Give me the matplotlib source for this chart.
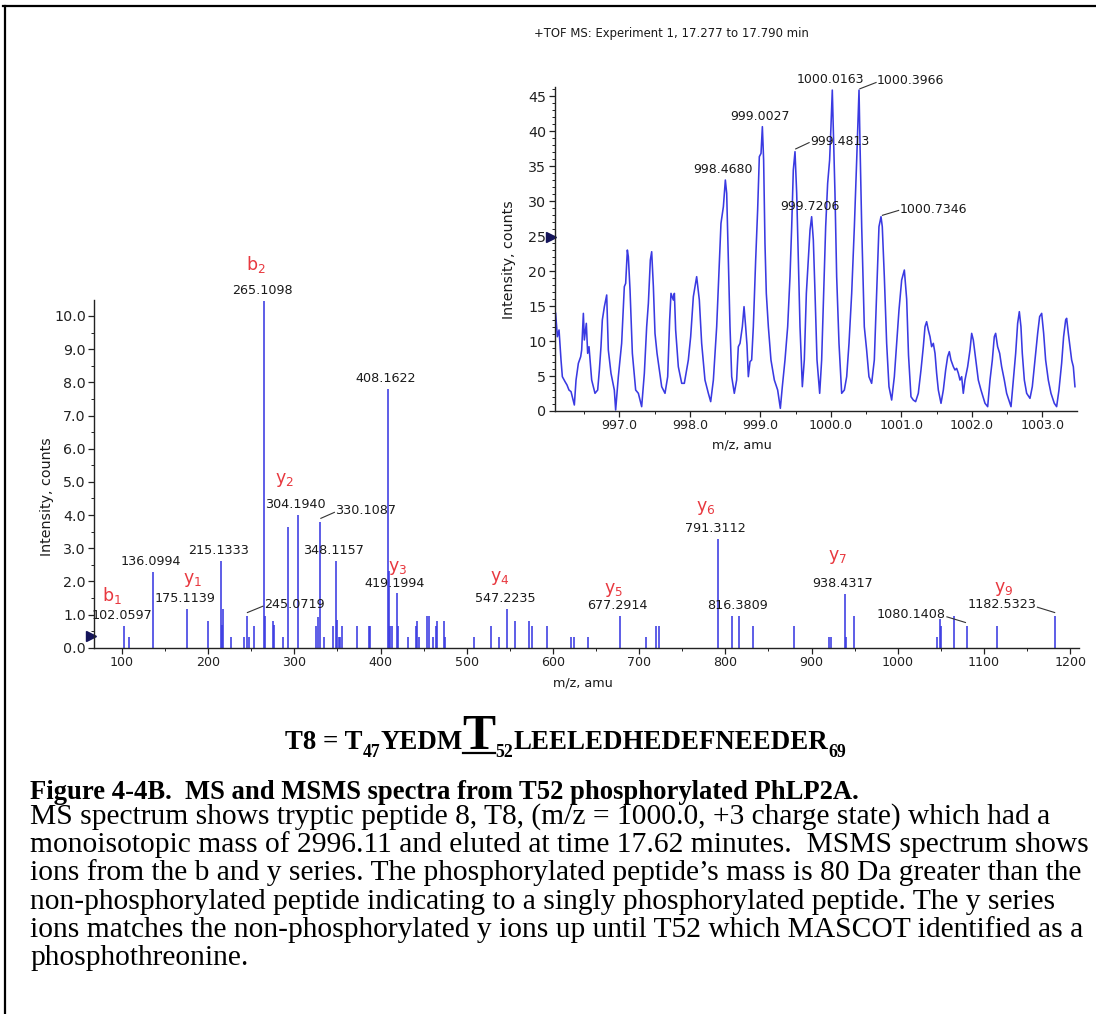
import matplotlib
matplotlib.use("Agg")
import matplotlib.pyplot as plt
from matplotlib.ticker import MultipleLocator, FormatStrFormatter
from matplotlib.lines import Line2D
import matplotlib.transforms as mtransforms

# ---------------- DATA ----------------
# MSMS centroid peaks (m/z, intensity counts)
msms_mz = [102.06, 108.2, 136.10, 175.11, 200.2, 215.13, 216.1, 217.3, 227.0, 241.4,
           245.07, 247.0, 253.4, 265.11, 266.1, 275.1, 276.7, 286.4, 292.6, 304.19,
           325.6, 327.2, 330.11, 334.9, 344.5, 348.12, 349.2, 351.5, 353.2, 354.8,
           372.6, 386.6, 388.2, 408.16, 409.3, 410.5, 413.4, 419.20, 420.6, 432.0,
           440.6, 442.5, 444.1, 454.2, 455.7, 460.8, 463.9, 465.4, 473.2, 474.4,
           508.5, 527.6, 536.9, 547.22, 555.7, 571.9, 575.3, 592.8, 621.1, 625.0,
           640.7, 677.29, 707.4, 720.0, 723.5, 791.31, 807.2, 816.38, 832.0, 879.9,
           920.4, 922.6, 938.43, 940.2, 948.8, 1045.5, 1049.4, 1050.3, 1065.5, 1080.14,
           1115.2, 1182.53]
msms_int = [0.66, 0.33, 2.28, 1.17, 0.80, 2.62, 0.68, 1.17, 0.33, 0.33,
            0.96, 0.33, 0.66, 10.46, 0.96, 0.80, 0.68, 0.33, 3.63, 4.00,
            0.66, 0.93, 3.80, 0.33, 0.66, 2.62, 0.83, 0.33, 0.33, 0.66,
            0.66, 0.66, 0.66, 7.80, 2.30, 0.66, 0.66, 1.64, 0.66, 0.33,
            0.66, 0.80, 0.33, 0.96, 0.96, 0.33, 0.66, 0.80, 0.80, 0.33,
            0.33, 0.66, 0.33, 1.16, 0.81, 0.81, 0.65, 0.65, 0.31, 0.31,
            0.33, 0.97, 0.33, 0.65, 0.65, 3.28, 0.97, 0.97, 0.65, 0.65,
            0.31, 0.31, 1.62, 0.33, 0.97, 0.33, 0.86, 0.65, 0.97, 0.65,
            0.65, 0.97]

msms_peak_labels = ["102.0597", "136.0994", "175.1139", "215.1333", "245.0719",
                    "265.1098", "304.1940", "330.1087", "348.1157", "408.1622",
                    "419.1994", "547.2235", "677.2914", "791.3112", "816.3809",
                    "938.4317", "1080.1408", "1182.5323"]
ion_names = ["b1", "y1", "b2", "y2", "y3", "y4", "y5", "y6", "y7", "y9"]

# MS profile spectrum (m/z, intensity counts)
ms_mz = [996.095, 996.119, 996.143, 996.171, 996.190, 996.228, 996.256, 996.284, 996.313, 996.360,
         996.384, 996.417, 996.450, 996.464, 996.488, 996.502, 996.530, 996.549, 996.568, 996.606,
         996.653, 996.691, 996.715, 996.738, 996.757, 996.786, 996.819, 996.842, 996.880, 996.927,
         996.946, 996.984, 997.031, 997.069, 997.088, 997.112, 997.126, 997.150, 997.183, 997.230,
         997.268, 997.315, 997.353, 997.386, 997.410, 997.438, 997.457, 997.481, 997.504, 997.533,
         997.599, 997.646, 997.684, 997.712, 997.731, 997.764, 997.779, 997.797, 997.835, 997.883,
         997.920, 997.977, 998.010, 998.048, 998.095, 998.133, 998.166, 998.213, 998.261, 998.294,
         998.332, 998.379, 998.412, 998.440, 998.474, 998.502, 998.521, 998.544, 998.568, 998.592,
         998.629, 998.662, 998.686, 998.710, 998.743, 998.767, 998.790, 998.809, 998.828, 998.852,
         998.875, 998.899, 998.932, 998.960, 998.984, 999.008, 999.027, 999.045, 999.064, 999.083,
         999.112, 999.149, 999.197, 999.244, 999.282, 999.310, 999.348, 999.386, 999.419, 999.443,
         999.466, 999.490, 999.514, 999.537, 999.561, 999.594, 999.622, 999.651, 999.679, 999.703,
         999.726, 999.750, 999.774, 999.802, 999.840, 999.868, 999.896, 999.925, 999.953, 999.981,
         1000.000, 1000.019, 1000.038, 1000.057, 1000.081, 1000.114, 1000.152, 1000.190, 1000.223, 1000.256,
         1000.294, 1000.332, 1000.365, 1000.398, 1000.412, 1000.436, 1000.473, 1000.506, 1000.539, 1000.577,
         1000.615, 1000.648, 1000.681, 1000.710, 1000.728, 1000.757, 1000.790, 1000.823, 1000.861, 1000.899,
         1000.932, 1000.965, 1001.003, 1001.041, 1001.074, 1001.100, 1001.135, 1001.168, 1001.201, 1001.239,
         1001.277, 1001.310, 1001.334, 1001.357, 1001.381, 1001.405, 1001.428, 1001.452, 1001.476, 1001.499,
         1001.523, 1001.561, 1001.594, 1001.627, 1001.655, 1001.679, 1001.702, 1001.736, 1001.759, 1001.783,
         1001.807, 1001.830, 1001.854, 1001.877, 1001.901, 1001.939, 1001.972, 1001.996, 1002.019, 1002.043,
         1002.067, 1002.090, 1002.128, 1002.185, 1002.223, 1002.256, 1002.289, 1002.317, 1002.336, 1002.364,
         1002.393, 1002.421, 1002.459, 1002.492, 1002.554, 1002.587, 1002.620, 1002.648, 1002.672, 1002.695,
         1002.714, 1002.743, 1002.776, 1002.823, 1002.856, 1002.894, 1002.932, 1002.960, 1002.989, 1003.017,
         1003.045, 1003.083, 1003.121, 1003.168, 1003.201, 1003.234, 1003.272, 1003.300, 1003.329, 1003.343,
         1003.367, 1003.390, 1003.414, 1003.438, 1003.461]
ms_int = [13.97, 10.63, 11.59, 7.30, 4.91, 4.20, 3.72, 3.00, 2.77, 0.86,
          4.43, 6.82, 7.77, 8.73, 13.97, 10.16, 12.54, 8.25, 9.20, 4.43,
          2.53, 3.00, 5.87, 9.20, 13.02, 14.93, 16.60, 8.73, 5.39, 3.00,
          0.14, 4.91, 9.68, 17.79, 18.26, 23.03, 22.08, 17.31, 8.25, 3.00,
          2.53, 0.62, 5.39, 12.06, 15.40, 21.60, 22.79, 17.79, 11.11, 8.25,
          3.48, 2.53, 4.91, 13.02, 16.83, 15.88, 16.83, 11.59, 6.34, 3.96,
          3.96, 7.30, 10.63, 16.36, 19.22, 15.88, 9.68, 4.43, 2.53, 1.34,
          4.43, 12.06, 20.17, 26.85, 29.23, 33.05, 31.14, 21.60, 12.06, 4.91,
          2.53, 4.43, 9.20, 9.68, 12.06, 14.93, 12.06, 9.44, 4.91, 7.06,
          7.30, 12.06, 21.60, 28.76, 36.39, 36.86, 40.68, 35.91, 23.99, 16.83,
          12.06, 7.30, 4.43, 3.00, 0.38, 3.48, 7.30, 12.06, 19.22, 26.37,
          34.48, 37.10, 31.14, 21.60, 12.06, 3.48, 7.30, 16.83, 21.60, 25.89,
          27.80, 24.46, 16.83, 7.30, 2.53, 7.30, 16.83, 26.37, 32.57, 35.91,
          40.68, 45.92, 38.29, 31.14, 19.22, 9.68, 2.53, 3.00, 4.91, 9.68,
          16.83, 26.37, 35.91, 45.92, 38.29, 26.37, 12.06, 8.73, 4.91, 3.96,
          7.30, 16.83, 26.37, 27.80, 26.37, 19.22, 9.68, 3.48, 1.57, 4.91,
          9.68, 14.45, 18.74, 20.17, 16.00, 8.00, 2.05, 1.57, 1.34, 2.53,
          5.87, 9.20, 12.06, 12.78, 11.59, 10.63, 9.20, 9.68, 8.25, 5.39,
          3.00, 1.10, 3.00, 5.87, 7.77, 8.49, 7.30, 6.34, 5.87, 6.10,
          5.39, 4.43, 4.91, 2.53, 4.43, 6.34, 8.73, 11.11, 10.16, 8.25,
          6.34, 4.43, 3.00, 1.10, 0.62, 4.43, 7.30, 10.63, 11.11, 9.20,
          8.25, 6.34, 4.43, 2.53, 0.62, 4.43, 8.25, 12.54, 14.21, 12.06,
          8.25, 4.43, 2.53, 1.81, 3.48, 7.30, 11.11, 13.50, 13.97, 11.11,
          7.30, 4.43, 2.53, 1.10, 0.62, 3.00, 6.82, 10.63, 13.02, 13.26,
          11.11, 9.20, 7.30, 6.34, 3.48]
ms_peak_labels = ["998.4680", "999.0027", "999.4813", "999.7206",
                  "1000.0163", "1000.3966", "1000.7346"]

inset_title = "+TOF MS: Experiment 1, 17.277 to 17.790 min"
x_label = "m/z, amu"
y_label = "Intensity, counts"
caption_heading = "Figure 4-4B.  MS and MSMS spectra from T52 phosphorylated PhLP2A."
caption_lines = [
    "MS spectrum shows tryptic peptide 8, T8, (m/z = 1000.0, +3 charge state) which had a",
    "monoisotopic mass of 2996.11 and eluted at time 17.62 minutes.  MSMS spectrum shows",
    "ions from the b and y series. The phosphorylated peptide\u2019s mass is 80 Da greater than the",
    "non-phosphorylated peptide indicating to a singly phosphorylated peptide. The y series",
    "ions matches the non-phosphorylated y ions up until T52 which MASCOT identified as a",
    "phosphothreonine.",
]
peptide_pieces = [("T8 = T", "n"), ("47", "s"), ("YEDM", "n"), ("T", "big"),
                  ("52", "s"), ("LEELEDHEDEFNEEDER", "n"), ("69", "s")]

# ---------------- LAYOUT / STYLE ----------------
W, H = 1096, 1014
BLUE = "#3a3ae2"
RED = "#e8383f"
TXT = "#1a1a1a"
SERIF = "Liberation Serif"

fig = plt.figure(figsize=(W / 100, H / 100), dpi=100)
fig.patch.set_facecolor("white")


def fx(px):
    return px / W


def fy(py):
    return 1 - py / H


# border (top & left)
fig.add_artist(Line2D([fx(3), 1.0], [fy(6), fy(6)], color="black", lw=1.6, transform=fig.transFigure))
fig.add_artist(Line2D([fx(5), fx(5)], [fy(6), 0.0], color="black", lw=1.6, transform=fig.transFigure))


def style_axes(a, xs, ys):
    for s in ("top", "right"):
        a.spines[s].set_visible(False)
    for s in ("left", "bottom"):
        a.spines[s].set_linewidth(1.0)
        a.spines[s].set_color("#222222")
    a.tick_params(which="major", direction="out", length=4, width=0.9, colors="#222222", pad=2)
    a.tick_params(which="minor", direction="out", length=2, width=0.7, colors="#222222")
    a.tick_params(axis="x", labelsize=xs)
    a.tick_params(axis="y", labelsize=ys)


# ---- main MSMS axes ----
ax = fig.add_axes([fx(94.3), fy(647.7), (1078.8 - 94.3) / W, (647.7 - 300.4) / H])
ax.vlines(msms_mz, 0, msms_int, color=BLUE, lw=1.15)
ax.set_xlim(68, 1210)
ax.set_ylim(0, 10.47)
ax.xaxis.set_major_locator(MultipleLocator(100))
ax.xaxis.set_minor_locator(MultipleLocator(50))
ax.yaxis.set_major_locator(MultipleLocator(1.0))
ax.yaxis.set_minor_locator(MultipleLocator(0.5))
ax.yaxis.set_major_formatter(FormatStrFormatter("%.1f"))
style_axes(ax, 9.1, 10.3)
ax.patch.set_alpha(0)

tb = mtransforms.blended_transform_factory(ax.transAxes, ax.transData)
ax.plot([-0.0035], [0.35], marker=">", ms=7, color="#14145a", transform=tb, clip_on=False)


def nearest_height(xs, ys, v):
    i = min(range(len(xs)), key=lambda k: abs(xs[k] - v))
    return xs[i], ys[i]


main_leaders = {
    "245.0719": (264.5, 1.29, "left", (245.6, 1.06), (263.5, 1.25)),
    "330.1087": (347.5, 4.13, "left", (330.8, 3.90), (346.5, 4.08)),
    "1080.1408": (1055.5, 0.99, "right", (1057.0, 0.93), (1078.5, 0.76)),
    "1182.5323": (1160.5, 1.29, "right", (1162.0, 1.22), (1182.0, 1.06)),
}
for lab in msms_peak_labels:
    px_, py_ = nearest_height(msms_mz, msms_int, float(lab))
    if lab in main_leaders:
        tx, ty, ha, p0, p1 = main_leaders[lab]
        ax.text(tx, ty, lab, fontsize=9.2, ha=ha, va="center", color=TXT, clip_on=False)
        ax.plot([p0[0], p1[0]], [p0[1], p1[1]], color="#333333", lw=0.8, clip_on=False)
    else:
        ax.annotate(lab, xy=(px_, py_), xytext=(-1.5, 7.4), textcoords="offset points",
                    fontsize=9.2, ha="center", va="center", color=TXT, annotation_clip=False)

ion_pos = {"b1": (88, 1.57), "y1": (181.6, 2.04), "b2": (255.1, 11.54), "y2": (289.1, 5.06),
           "y3": (419.8, 2.39), "y4": (538.5, 2.09), "y5": (669.8, 1.74), "y6": (777.1, 4.20),
           "y7": (930.3, 2.74), "y9": (1123.0, 1.76)}
for nm in ion_names:
    x_, y_ = ion_pos[nm]
    ax.text(x_, y_, r"$\mathregular{%s_{%s}}$" % (nm[0], nm[1:]), color=RED, fontsize=12.5,
            ha="center", va="center", clip_on=False)

# ---- inset MS axes ----
ax2 = fig.add_axes([fx(554.6), fy(411), (1077.0 - 554.6) / W, (411 - 87.4) / H])
ax2.plot(ms_mz, ms_int, color=BLUE, lw=1.15)
ax2.set_xlim(996.08, 1003.49)
ax2.set_ylim(0, 46.3)
ax2.xaxis.set_major_locator(MultipleLocator(1.0))
ax2.xaxis.set_minor_locator(MultipleLocator(0.5))
ax2.xaxis.set_major_formatter(FormatStrFormatter("%.1f"))
ax2.yaxis.set_major_locator(MultipleLocator(5))
ax2.yaxis.set_minor_locator(MultipleLocator(1))
ax2.yaxis.set_major_formatter(FormatStrFormatter("%d"))
style_axes(ax2, 9.1, 10.3)
ax2.patch.set_alpha(0)
tb2 = mtransforms.blended_transform_factory(ax2.transAxes, ax2.transData)
ax2.plot([-0.007], [24.9], marker=">", ms=7, color="#14145a", transform=tb2, clip_on=False)

inset_leaders = {
    "999.4813": (999.70, 38.5, "left", (999.50, 37.5), (999.69, 38.4)),
    "1000.3966": (1000.65, 47.3, "left", (1000.41, 46.1), (1000.64, 47.0)),
    "1000.7346": (1000.98, 28.8, "left", (1000.73, 28.0), (1000.96, 28.7)),
}
for lab in ms_peak_labels:
    v = float(lab)
    cand = [k for k in range(len(ms_mz)) if abs(ms_mz[k] - v) < 0.06]
    k = max(cand, key=lambda j: ms_int[j])
    if lab in inset_leaders:
        tx, ty, ha, p0, p1 = inset_leaders[lab]
        ax2.text(tx, ty, lab, fontsize=9.0, ha=ha, va="center", color=TXT, clip_on=False)
        ax2.plot([p0[0], p1[0]], [p0[1], p1[1]], color="#333333", lw=0.8, clip_on=False)
    else:
        ax2.annotate(lab, xy=(ms_mz[k], ms_int[k]), xytext=(-1.5, 7.4), textcoords="offset points",
                     fontsize=9.0, ha="center", va="center", color=TXT, annotation_clip=False)

# axis titles
fig.text(fx(47), fy(497), y_label, rotation=90, ha="center", va="center", fontsize=10.3, color=TXT)
fig.text(fx(583), fy(683), x_label, ha="center", va="center", fontsize=9.2, color=TXT)
fig.text(fx(509), fy(260), y_label, rotation=90, ha="center", va="center", fontsize=10.3, color=TXT)
fig.text(fx(742), fy(445), x_label, ha="center", va="center", fontsize=9.2, color=TXT)
fig.text(fx(671), fy(34), inset_title, ha="center", va="center", fontsize=8.4, color=TXT)

# ---------------- text block ----------------
renderer = fig.canvas.get_renderer()


def fitted_text(x_px, base_px, s, target_w, **kw):
    t = fig.text(fx(x_px), fy(base_px), s, fontsize=16, va="baseline", ha="left", **kw)
    w = t.get_window_extent(renderer).width
    t.set_fontsize(16 * target_w / w)
    return t


head = fitted_text(30, 799, caption_heading, 831, family=SERIF, fontweight="bold")
body0 = fitted_text(30, 852, caption_lines[1], 1057, family=SERIF)
body_size = body0.get_fontsize()
body0.remove()
for i, line in enumerate(caption_lines):
    fig.text(fx(30), fy(824 + 28.2 * i), line, fontsize=body_size, va="baseline", ha="left",
             family=SERIF, color="black")


def draw_peptide(x0, baseline, base_pt):
    objs = []
    x = x0
    px_per_pt = 100 / 72
    for txt, kind in peptide_pieces:
        if kind == "n":
            size, dy = base_pt, 0.0
        elif kind == "s":
            size, dy = base_pt * 0.66, base_pt * px_per_pt * 0.30
        else:
            size, dy = base_pt * 1.85, 0.0
        t = fig.text(fx(x), fy(baseline + dy), txt, fontsize=size, fontweight="bold",
                     family=SERIF, va="baseline", ha="left", color="black")
        bb = t.get_window_extent(renderer)
        if kind == "big":
            ln = Line2D([fx(bb.x0 + 1), fx(bb.x1 - 1)], [fy(baseline + 3.5)] * 2, color="black",
                        lw=1.6, transform=fig.transFigure)
            fig.add_artist(ln)
            objs.append(ln)
        objs.append(t)
        x += bb.width
    return objs, x - x0


objs, wtot = draw_peptide(285, 749, 15.0)
for o in objs:
    o.remove()
draw_peptide(285, 749, 15.0 * 560 / wtot)

fig.savefig("out.png", dpi=100, facecolor="white")
